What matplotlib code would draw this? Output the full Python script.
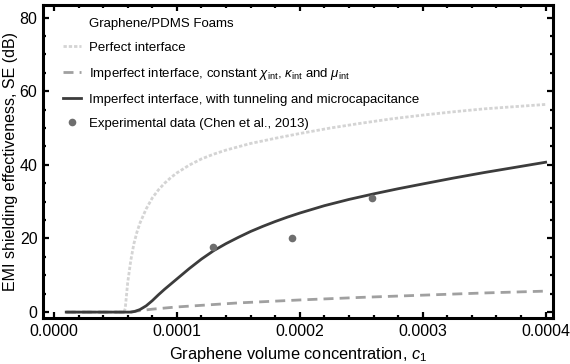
import numpy as np
import matplotlib
matplotlib.use("Agg")
import matplotlib.pyplot as plt
from matplotlib.lines import Line2D
from matplotlib.ticker import MultipleLocator, FormatStrFormatter

plt.rcParams['font.family'] = ['Liberation Sans', 'DejaVu Sans']
plt.rcParams['mathtext.fontset'] = 'custom'
plt.rcParams['mathtext.rm'] = 'Liberation Sans'
plt.rcParams['mathtext.it'] = 'Liberation Sans:italic'

# perfect interface
c_perfect = [1e-5, 5.7e-5, 5.8e-5, 5.9e-5, 6.0e-5, 6.25e-5, 6.5e-5, 6.75e-5, 7e-5, 7.5e-5, 8e-5,
             8.5e-5, 9e-5, 9.5e-5, 1e-4, 1.1e-4, 1.2e-4, 1.3e-4, 1.4e-4, 1.6e-4, 1.8e-4,
             2e-4, 2.25e-4, 2.5e-4, 2.75e-4, 3e-4, 3.25e-4, 3.5e-4, 3.75e-4, 4e-4]
se_perfect = [0, 0, 1.0, 4.5, 8.0, 14.0, 18.5, 21.7, 24.2, 28.0, 31.0,
              33.2, 35.0, 36.5, 37.8, 39.9, 41.6, 42.9, 44.0, 45.8, 47.2,
              48.5, 50.0, 51.3, 52.5, 53.5, 54.4, 55.2, 55.8, 56.4]

# imperfect interface, constant chi, kappa, mu
c_const = [1e-5, 6e-5, 8e-5, 1e-4, 1.5e-4, 2e-4, 2.5e-4, 3e-4, 3.5e-4, 4e-4]
se_const = [0, 0, 0.8, 1.4, 2.5, 3.3, 4.0, 4.6, 5.2, 5.7]

# imperfect interface, tunneling + microcapacitance
c_tunnel = [1e-5, 6.3e-5, 6.6e-5, 7e-5, 7.5e-5, 8e-5, 8.5e-5, 9e-5, 9.5e-5, 1e-4,
            1.1e-4, 1.2e-4, 1.3e-4, 1.4e-4, 1.5e-4, 1.6e-4, 1.7e-4, 1.8e-4, 1.9e-4, 2e-4,
            2.2e-4, 2.4e-4, 2.6e-4, 2.8e-4, 3e-4, 3.25e-4, 3.5e-4, 3.75e-4, 4e-4]
se_tunnel = [0, 0, 0.2, 0.7, 1.7, 3.1, 4.7, 6.2, 7.6, 9.0,
             11.8, 14.4, 16.7, 18.6, 20.3, 21.9, 23.3, 24.6, 25.8, 26.9,
             28.9, 30.6, 32.1, 33.5, 34.8, 36.4, 37.9, 39.3, 40.7]

# experimental data (Chen et al., 2013)
c_exp = [1.29e-4, 1.94e-4, 2.585e-4]
se_exp = [17.6, 20.1, 30.9]

fig = plt.figure(figsize=(5.7, 3.64), dpi=100)
ax = fig.add_axes([43 / 570, 46 / 364, 510 / 570, 313 / 364])

ax.plot(c_perfect, se_perfect, color='#d4d4d4', lw=2.0, linestyle=(0, (1.2, 0.7)),
        label='Perfect interface')
ax.plot(c_const, se_const, color='#a0a0a0', lw=2.0, linestyle=(0, (3.6, 2.2)),
        label=r'Imperfect interface, constant $\chi_{\mathrm{int}}$, $\kappa_{\mathrm{int}}$ and $\mu_{\mathrm{int}}$')
ax.plot(c_tunnel, se_tunnel, color='#3c3c3c', lw=2.0,
        label='Imperfect interface, with tunneling and microcapacitance')
ax.plot(c_exp, se_exp, 'o', color='#6e6e6e', ms=5.5, mec='none',
        label='Experimental data (Chen et al., 2013)')

ax.set_xlim(-0.0000089, 0.000406)
ax.set_ylim(-1.6, 83.4)
ax.xaxis.set_major_locator(MultipleLocator(0.0001))
ax.xaxis.set_minor_locator(MultipleLocator(0.00002))
ax.xaxis.set_major_formatter(FormatStrFormatter('%.4f'))
ax.yaxis.set_major_locator(MultipleLocator(20))
ax.yaxis.set_minor_locator(MultipleLocator(5))
ax.tick_params(which='both', direction='in', top=True, right=True, labelsize=11.5, width=1.6)
ax.tick_params(which='major', length=4.5, pad=4)
ax.tick_params(which='minor', length=2.5)
for sp in ax.spines.values():
    sp.set_linewidth(2.2)

ax.set_xlabel(r'Graphene volume concentration, $c_1$', fontsize=11.8, labelpad=5)
ax.set_ylabel('EMI shielding effectiveness, SE (dB)', fontsize=11.5, labelpad=1)

handles, labels = ax.get_legend_handles_labels()
blank = Line2D([], [], color='none')
ax.legend([blank] + handles, ['Graphene/PDMS Foams'] + labels, loc='upper left',
          bbox_to_anchor=(0.022, 0.99), frameon=False, fontsize=9.5, handlelength=1.35,
          handletextpad=0.6, labelspacing=0.9, borderaxespad=0.3)

fig.savefig('out.png', dpi=100)
